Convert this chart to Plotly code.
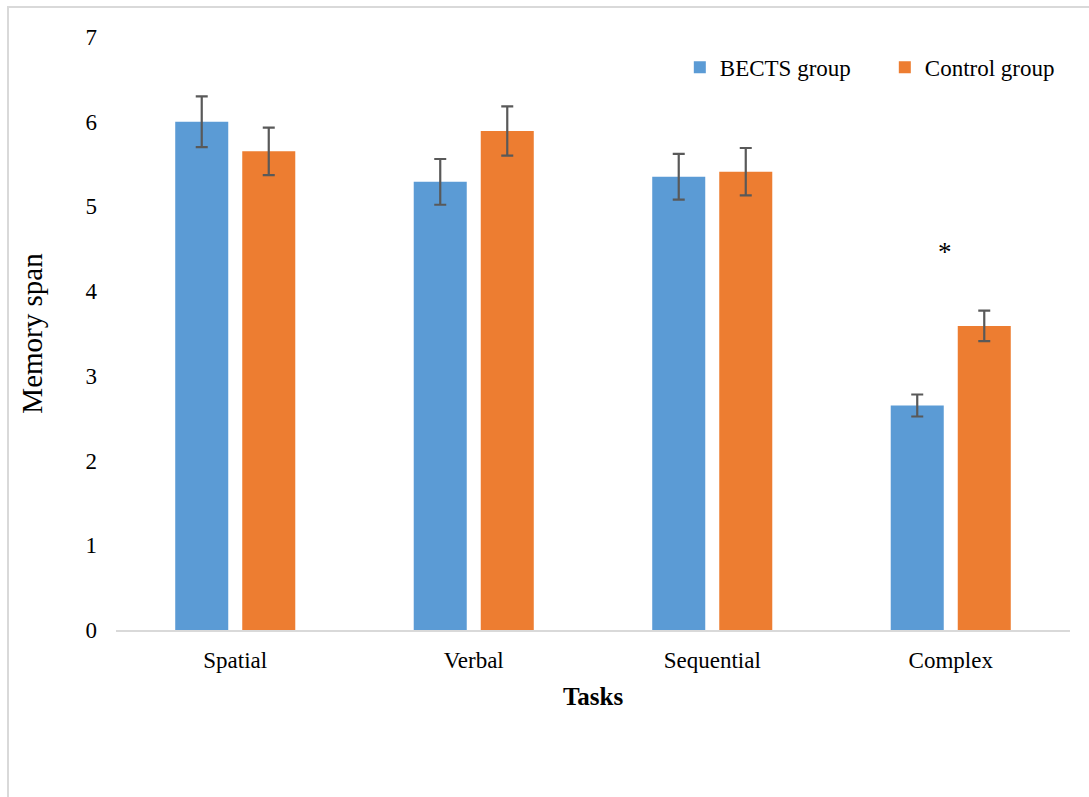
import plotly.graph_objects as go

# Memory span by task and group
tasks = ["Spatial", "Verbal", "Sequential", "Complex"]
bects_mean = [6.00, 5.29, 5.35, 2.65]
bects_err = [0.30, 0.27, 0.27, 0.13]
control_mean = [5.65, 5.89, 5.41, 3.59]
control_err = [0.28, 0.29, 0.28, 0.18]
y_ticks = [0, 1, 2, 3, 4, 5, 6, 7]

SERIF = "Liberation Serif, Times New Roman, serif"
ERR_COLOR = "#595959"

fig = go.Figure()
fig.add_trace(go.Bar(
    name="BECTS group", x=tasks, y=bects_mean,
    marker=dict(color="#5B9BD5", line=dict(width=0)),
    error_y=dict(type="data", array=bects_err, color=ERR_COLOR, thickness=2.2, width=6),
))
fig.add_trace(go.Bar(
    name="Control group", x=tasks, y=control_mean,
    marker=dict(color="#ED7D31", line=dict(width=0)),
    error_y=dict(type="data", array=control_err, color=ERR_COLOR, thickness=2.2, width=6),
))

# significance marker above the Complex task
fig.add_annotation(
    x="Complex", y=4.46, text="*", showarrow=False, xshift=-6,
    font=dict(family=SERIF, size=27, color="#000000"),
)

# outer frame of the chart area
fig.add_shape(
    type="rect", xref="paper", yref="paper",
    x0=-0.1132, x1=1.2, y0=-0.6, y1=1.0506,
    line=dict(color="#D9D9D9", width=2), fillcolor="rgba(0,0,0,0)", layer="below",
)

fig.update_layout(
    width=1089, height=797,
    margin=dict(l=116, r=19, t=37, b=167, autoexpand=False),
    paper_bgcolor="white", plot_bgcolor="white",
    barmode="group", bargap=0.438, bargroupgap=0.209,
    font=dict(family=SERIF, size=22, color="#000000"),
    showlegend=True,
    legend=dict(
        orientation="h", x=0.591, y=0.949, xanchor="left", yanchor="middle",
        font=dict(family=SERIF, size=23, color="#000000"),
        bgcolor="rgba(0,0,0,0)", itemwidth=30, traceorder="normal",
        entrywidth=160,
    ),
    xaxis=dict(
        showgrid=False, showline=True, linecolor="#D9D9D9", linewidth=2,
        ticks="", tickfont=dict(family=SERIF, size=23), ticklabelstandoff=8,
        title=dict(text="<b>Tasks</b>", font=dict(family=SERIF, size=25), standoff=16),
    ),
    yaxis=dict(
        range=[0, 7], tickvals=y_ticks, showgrid=False, zeroline=False,
        showline=False, ticks="", ticklabelstandoff=18,
        tickfont=dict(family=SERIF, size=23),
        title=dict(text="Memory span", font=dict(family=SERIF, size=29), standoff=34),
    ),
)

fig.write_html("out.html")
